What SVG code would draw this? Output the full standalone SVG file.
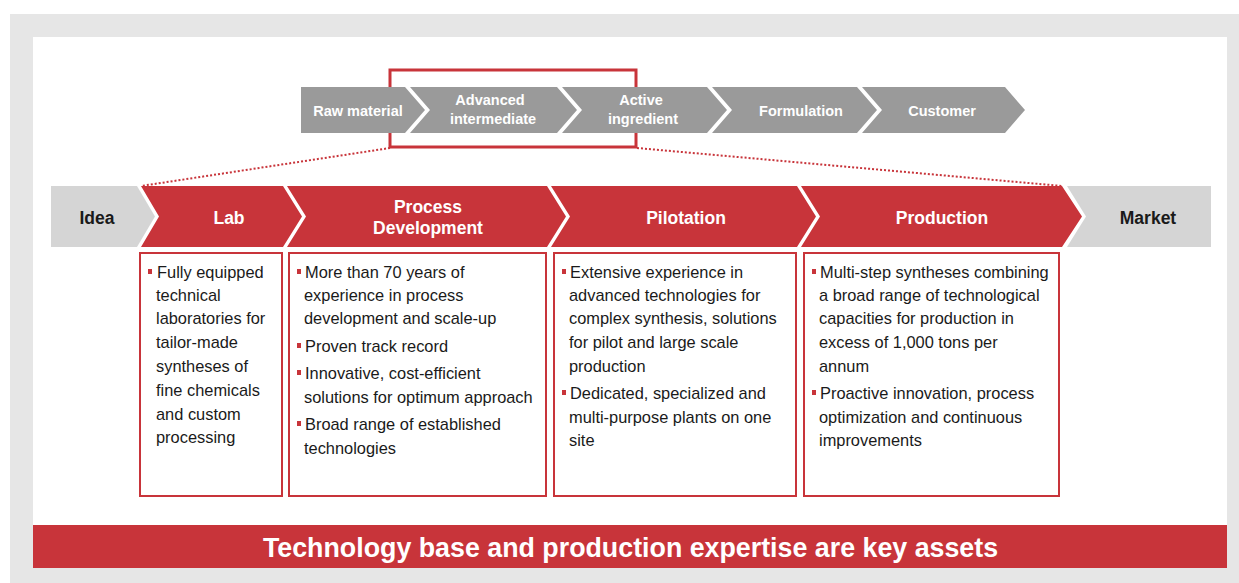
<svg xmlns="http://www.w3.org/2000/svg" width="1239" height="583" viewBox="0 0 1239 583">
<style>
  text { font-family: "Liberation Sans", Arial, sans-serif; }
  .tchev { fill: #9a9a9a; }
  .rchev { fill: #c8343a; }
  .gchev { fill: #d5d5d5; }
  .tl { font-size: 14.5px; font-weight: bold; fill: #ffffff; text-anchor: middle; }
  .ml { font-size: 17.5px; font-weight: bold; fill: #ffffff; text-anchor: middle; }
  .dl { font-size: 17.5px; font-weight: bold; fill: #1a1a1a; text-anchor: middle; }
  .box { fill: #ffffff; stroke: #c8343a; stroke-width: 2; }
  .bt { font-size: 16.4px; fill: #1a1a1a; }
  .bul { fill: #c8343a; }
  .dot { fill: none; stroke: #c8343a; stroke-width: 2; stroke-dasharray: 2 2; }
</style>
<rect x="0" y="0" width="1239" height="583" fill="#ffffff"/>
<rect x="10" y="14" width="1229" height="569" fill="#e6e6e6"/>
<rect x="33" y="37" width="1194" height="531" fill="#ffffff"/>

<g id="highlight">
  <rect x="390" y="70" width="246" height="77" fill="none" stroke="#c8343a" stroke-width="3"/>
</g>

<g id="connectors">
  <line class="dot" x1="390" y1="148" x2="141" y2="186"/>
  <line class="dot" x1="637" y1="148" x2="1062" y2="186"/>
</g>

<g id="top-chain">
  <g id="raw-material">
    <polygon class="tchev" points="301,87 405,87 425,110 405,133 301,133"/>
    <text class="tl" x="358" y="116">Raw material</text>
  </g>
  <g id="advanced-intermediate">
    <polygon class="tchev" points="410,87 557,87 577,110 557,133 410,133 430,110"/>
    <text class="tl" x="490" y="105">Advanced</text>
    <text class="tl" x="493" y="124">intermediate</text>
  </g>
  <g id="active-ingredient">
    <polygon class="tchev" points="562,87 707,87 727,110 707,133 562,133 582,110"/>
    <text class="tl" x="641" y="105">Active</text>
    <text class="tl" x="643" y="124">ingredient</text>
  </g>
  <g id="formulation">
    <polygon class="tchev" points="712,87 857,87 877,110 857,133 712,133 732,110"/>
    <text class="tl" x="801" y="116">Formulation</text>
  </g>
  <g id="customer">
    <polygon class="tchev" points="862,87 1005,87 1025,110 1005,133 862,133 882,110"/>
    <text class="tl" x="942" y="116">Customer</text>
  </g>
</g>

<g id="stages">
  <g id="idea">
    <polygon class="gchev" points="51,186 137,186 155,216.5 137,247 51,247"/>
    <text class="dl" x="97" y="224">Idea</text>
  </g>
  <g id="lab">
    <polygon class="rchev" points="141,186 283,186 302,216.5 283,247 141,247 159,216.5"/>
    <text class="ml" x="229" y="224">Lab</text>
  </g>
  <g id="process-development">
    <polygon class="rchev" points="287,186 547,186 566,216.5 547,247 287,247 306,216.5"/>
    <text class="ml" x="428" y="213">Process</text>
    <text class="ml" x="428" y="234">Development</text>
  </g>
  <g id="pilotation">
    <polygon class="rchev" points="551,186 797,186 816,216.5 797,247 551,247 570,216.5"/>
    <text class="ml" x="686" y="224">Pilotation</text>
  </g>
  <g id="production">
    <polygon class="rchev" points="801,186 1062,186 1082,216.5 1062,247 801,247 820,216.5"/>
    <text class="ml" x="942" y="224">Production</text>
  </g>
  <g id="market">
    <polygon class="gchev" points="1067,186 1211,186 1211,247 1067,247 1086,216.5"/>
    <text class="dl" x="1148" y="224">Market</text>
  </g>
</g>

<g id="lab-box">
  <rect class="box" x="140" y="253" width="142" height="243"/>
  <rect class="bul" x="148" y="269" width="4" height="5"/>
  <text class="bt"><tspan x="157" y="278">Fully equipped</tspan><tspan x="156" y="301">technical</tspan><tspan x="156" y="324">laboratories for</tspan><tspan x="156" y="348">tailor-made</tspan><tspan x="156" y="372">syntheses of</tspan><tspan x="156" y="396">fine chemicals</tspan><tspan x="156" y="420">and custom</tspan><tspan x="156" y="443">processing</tspan></text>
</g>

<g id="process-box">
  <rect class="box" x="289" y="253" width="257" height="243"/>
  <rect class="bul" x="297" y="269" width="4" height="5"/>
  <rect class="bul" x="297" y="343" width="4" height="5"/>
  <rect class="bul" x="297" y="370" width="4" height="5"/>
  <rect class="bul" x="297" y="421" width="4" height="5"/>
  <text class="bt"><tspan x="305" y="278">More than 70 years of</tspan><tspan x="304" y="301">experience in process</tspan><tspan x="304" y="324">development and scale-up</tspan><tspan x="305" y="352">Proven track record</tspan><tspan x="305" y="379">Innovative, cost-efficient</tspan><tspan x="304" y="403">solutions for optimum approach</tspan><tspan x="305" y="430">Broad range of established</tspan><tspan x="304" y="454">technologies</tspan></text>
</g>

<g id="pilotation-box">
  <rect class="box" x="554" y="253" width="242" height="243"/>
  <rect class="bul" x="562" y="269" width="4" height="5"/>
  <rect class="bul" x="562" y="390" width="4" height="5"/>
  <text class="bt"><tspan x="570" y="278">Extensive experience in</tspan><tspan x="569" y="301">advanced technologies for</tspan><tspan x="569" y="324">complex synthesis, solutions</tspan><tspan x="569" y="348">for pilot and large scale</tspan><tspan x="569" y="372">production</tspan><tspan x="570" y="399">Dedicated, specialized and</tspan><tspan x="569" y="423">multi-purpose plants on one</tspan><tspan x="569" y="446">site</tspan></text>
</g>

<g id="production-box">
  <rect class="box" x="804" y="253" width="255" height="243"/>
  <rect class="bul" x="812" y="269" width="4" height="5"/>
  <rect class="bul" x="812" y="390" width="4" height="5"/>
  <text class="bt"><tspan x="820" y="278">Multi-step syntheses combining</tspan><tspan x="819" y="301">a broad range of technological</tspan><tspan x="819" y="324">capacities for production in</tspan><tspan x="819" y="348">excess of 1,000 tons per</tspan><tspan x="819" y="372">annum</tspan><tspan x="820" y="399">Proactive innovation, process</tspan><tspan x="819" y="423">optimization and continuous</tspan><tspan x="819" y="446">improvements</tspan></text>
</g>

<g id="banner">
  <rect x="33" y="525" width="1194" height="43" fill="#c8343a"/>
  <text x="630.5" y="557" font-size="26.8" font-weight="bold" fill="#ffffff" text-anchor="middle">Technology base and production expertise are key assets</text>
</g>
</svg>
